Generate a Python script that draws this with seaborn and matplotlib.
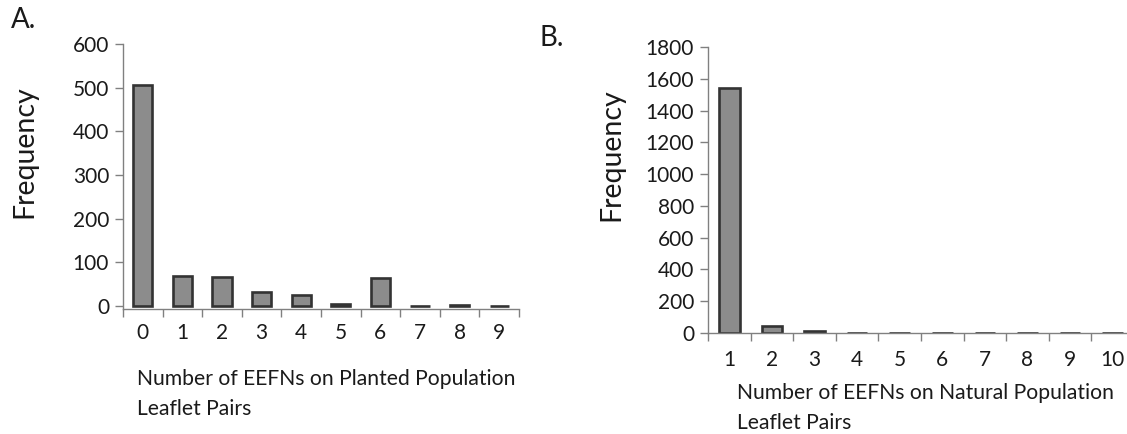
import matplotlib
matplotlib.use("Agg")
import matplotlib.pyplot as plt
import seaborn as sns
from matplotlib.ticker import FixedLocator

# ---- data ----
planted_pairs = ["0", "1", "2", "3", "4", "5", "6", "7", "8", "9"]
planted_freq = [505, 68, 66, 33, 25, 5, 64, 1, 3, 1]
planted_yticks = [0, 100, 200, 300, 400, 500, 600]

natural_pairs = ["1", "2", "3", "4", "5", "6", "7", "8", "9", "10"]
natural_freq = [1545, 44, 12, 3, 2, 2, 1, 1, 1, 1]
natural_yticks = [0, 200, 400, 600, 800, 1000, 1200, 1400, 1600, 1800]

xlabel_A = "Number of EEFNs on Planted Population\nLeaflet Pairs"
xlabel_B = "Number of EEFNs on Natural Population\nLeaflet Pairs"

sns.set_theme(style="white")
plt.rcParams['font.family'] = ['Lato', 'DejaVu Sans']
TEXT = "#1a1a1a"
SPINE = "#808080"
FILL = "#8c8c8c"
EDGE = "#333333"

W, H = 1127, 434
fig = plt.figure(figsize=(W / 100, H / 100), dpi=100)
fig.patch.set_facecolor("white")

axA = fig.add_axes([123 / W, 1 - 309 / H, 396 / W, (309 - 44) / H])
axB = fig.add_axes([708 / W, 1 - 333 / H, 426 / W, (333 - 47) / H])


def style(ax, cats, vals, yticks, ylim, xpad, ylab_xy, xlab_xy, xlabel):
    sns.barplot(x=cats, y=vals, order=cats, ax=ax, width=0.48, color=FILL,
                saturation=1, edgecolor=EDGE, linewidth=1.9)
    n = len(cats)
    ax.set_xlim(-0.5, n - 0.5)
    ax.set_ylim(*ylim)
    for s in ("top", "right"):
        ax.spines[s].set_visible(False)
    for s in ("left", "bottom"):
        ax.spines[s].set_color(SPINE)
        ax.spines[s].set_linewidth(1.0)
    ax.set_yticks(yticks)
    ax.set_yticklabels([str(t) for t in yticks])
    ax.set_xticks(range(n))
    ax.set_xticklabels(cats)
    ax.xaxis.set_minor_locator(FixedLocator([i - 0.5 for i in range(n + 1)]))
    ax.tick_params(axis="y", left=True, direction="out", length=6, width=1,
                   color=SPINE, labelsize=15, labelcolor=TEXT, pad=4)
    ax.tick_params(axis="x", which="major", bottom=True, length=0,
                   labelsize=15, labelcolor=TEXT, pad=xpad)
    ax.tick_params(axis="x", which="minor", bottom=True, direction="out",
                   length=6, width=1, color=SPINE)
    ax.set_ylabel("Frequency", fontsize=20.5, color=TEXT)
    ax.yaxis.set_label_coords(*ylab_xy)
    ax.set_xlabel(xlabel, fontsize=15.2, color=TEXT, ha="left", ma="left",
                  linespacing=1.6)
    ax.xaxis.set_label_coords(*xlab_xy)


style(axA, planted_pairs, planted_freq, planted_yticks, (-7, 600), 10,
      ((37 - 123) / 396, (309 - 152) / 265),
      ((137 - 123) / 396, (309 - 369) / 265), xlabel_A)
style(axB, natural_pairs, natural_freq, natural_yticks, (0, 1800), 12,
      ((624 - 708) / 426, (333 - 155) / 286),
      ((737 - 708) / 426, (333 - 383) / 286), xlabel_B)

fig.text(11 / W, 1 - 28 / H, "A.", fontsize=20, color=TEXT, ha="left", va="baseline")
fig.text(540 / W, 1 - 46 / H, "B.", fontsize=20, color=TEXT, ha="left", va="baseline")

fig.savefig("out.png", dpi=100, facecolor="white")
